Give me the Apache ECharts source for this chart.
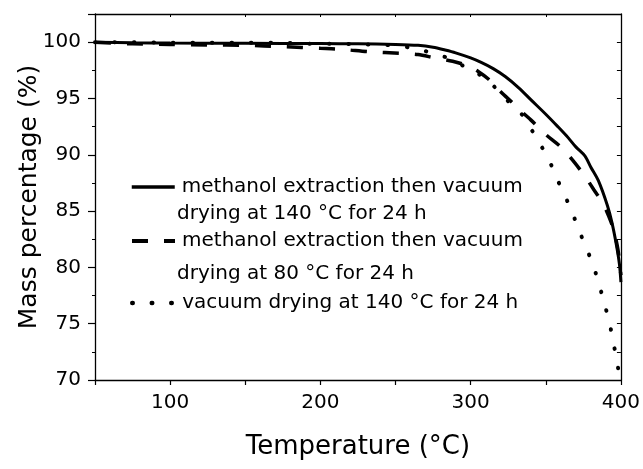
<!DOCTYPE html>
<html>
<head>
<meta charset="utf-8">
<script src="https://cdn.jsdelivr.net/npm/echarts@6/dist/echarts.min.js"></script>
<style>html,body{margin:0;padding:0;background:#fff;}#c{width:643px;height:469px;}</style>
</head>
<body>
<div id="c"></div>
<script>
// Temperature (°C) and mass percentage (%) for each sample
const solidX = [50, 75, 100, 150, 200, 225, 250, 265, 275, 283, 290, 300, 307, 315, 323, 332, 340, 350, 358, 365, 370, 376, 380, 385, 391, 394, 397, 399, 400];
const solidY = [100.0, 99.95, 99.92, 99.9, 99.87, 99.85, 99.8, 99.72, 99.55, 99.3, 99.05, 98.6, 98.2, 97.65, 96.95, 95.95, 94.9, 93.6, 92.5, 91.5, 90.7, 89.9, 88.9, 87.7, 85.5, 84.0, 82.0, 80.3, 78.7];

const dashX = [50, 75, 100, 125, 150, 175, 200, 215, 232, 254, 265, 276, 288, 298, 305, 312, 320, 328, 335, 340, 350, 360, 368, 376, 382, 388, 392, 395, 398, 400];
const dashY = [100.0, 99.85, 99.8, 99.75, 99.72, 99.6, 99.45, 99.35, 99.15, 99.0, 98.9, 98.6, 98.3, 97.9, 97.4, 96.7, 95.6, 94.6, 93.7, 93.1, 91.8, 90.7, 89.5, 88.1, 86.9, 85.7, 84.5, 83.4, 81.6, 79.3];

const dotX = [50, 75, 100, 125, 150, 175, 190, 210, 230, 250, 260, 270, 280, 287, 295, 302, 311, 320, 327, 334, 342, 349, 355, 360, 366, 371, 376, 381, 385, 389, 392.5, 395, 397.5, 399.2];
const dotY = [100.0, 100.0, 99.95, 99.95, 99.95, 99.95, 99.85, 99.85, 99.8, 99.7, 99.5, 99.2, 98.8, 98.5, 97.9, 97.4, 96.7, 95.4, 94.5, 93.6, 91.9, 90.3, 88.7, 87.1, 85.4, 83.7, 82.0, 80.4, 78.7, 76.8, 75.0, 73.3, 71.6, 70.0];

const seriesNames = [
  'methanol extraction then vacuum\ndrying at 140 °C for 24 h',
  'methanol extraction then vacuum\ndrying at 80 °C for 24 h',
  'vacuum drying at 140 °C for 24 h'
];
const xTicks = [100, 200, 300, 400];
const yTicks = [70, 75, 80, 85, 90, 95, 100];

const FONT = 'DejaVu Sans';
const pairs = (xs, ys) => xs.map((x, i) => [x, ys[i]]);
const chart = echarts.init(document.getElementById('c'), null, {renderer: 'canvas'});

const firstLine = n => n.split('\n')[0];
function legendAt(name, top, width) {
  return {
    data: [name], left: 130, top: top, padding: 0, itemWidth: 43, itemHeight: 14, itemGap: 0,
    formatter: firstLine,
    itemStyle: {opacity: 0},
    lineStyle: {width: width},
    textStyle: {fontFamily: FONT, fontSize: 20, color: '#000', padding: [0, 0, 0, 2]}
  };
}

chart.setOption({
  animation: false,
  backgroundColor: '#fff',
  grid: {left: 95, right: 20, top: 14, bottom: 89, containLabel: false},
  legend: [legendAt(seriesNames[0], 177, 3.5), legendAt(seriesNames[1], 231, 4), legendAt(seriesNames[2], 293, 4.5)],
  graphic: [
    {type: 'text', left: 177, top: 204, style: {text: seriesNames[0].split('\n')[1], font: '20px "' + FONT + '"', fill: '#000'}},
    {type: 'text', left: 177, top: 264, style: {text: seriesNames[1].split('\n')[1], font: '20px "' + FONT + '"', fill: '#000'}}
  ],
  xAxis: [{
    type: 'value', min: 50, max: 400, interval: 50, position: 'bottom',
    name: 'Temperature (°C)', nameLocation: 'middle', nameGap: 54, nameMoveOverlap: false,
    nameTextStyle: {fontFamily: FONT, fontSize: 26, color: '#000'},
    axisLine: {show: true, onZero: false, lineStyle: {color: '#000', width: 1.3}},
    axisTick: {show: true, inside: false, length: 5, lineStyle: {color: '#000', width: 1.2}},
    axisLabel: {margin: 13, fontFamily: FONT, fontSize: 20, color: '#000',
      formatter: v => xTicks.includes(v) ? String(v) : ''},
    splitLine: {show: false}
  }, {
    type: 'value', min: 50, max: 400, interval: 50, position: 'top',
    axisLine: {show: true, onZero: false, lineStyle: {color: '#000', width: 1.3}},
    axisTick: {show: true, inside: true, length: 3, lineStyle: {color: '#000', width: 1}},
    axisLabel: {show: false}, splitLine: {show: false}
  }],
  yAxis: [{
    type: 'value', min: 70, max: 102.5, interval: 5, position: 'left',
    name: 'Mass percentage (%)', nameLocation: 'middle', nameGap: 53, nameMoveOverlap: false,
    nameTextStyle: {fontFamily: FONT, fontSize: 25, color: '#000'},
    axisLine: {show: true, onZero: false, lineStyle: {color: '#000', width: 1.3}},
    axisTick: {show: true, inside: false, length: 7, lineStyle: {color: '#000', width: 1.2}},
    minorTick: {show: true, splitNumber: 2, length: 3, lineStyle: {color: '#000', width: 1}},
    axisLabel: {margin: 14, fontFamily: FONT, fontSize: 20, color: '#000',
      formatter: v => yTicks.includes(v) ? String(v) : ''},
    splitLine: {show: false}, minorSplitLine: {show: false}
  }, {
    type: 'value', min: 70, max: 102.5, interval: 2.5, position: 'right',
    axisLine: {show: true, onZero: false, lineStyle: {color: '#000', width: 1.3}},
    axisTick: {show: true, inside: true, length: 4, lineStyle: {color: '#000', width: 1}},
    axisLabel: {show: false}, splitLine: {show: false}
  }],
  series: [{
    name: seriesNames[0], type: 'line', xAxisIndex: 0, yAxisIndex: 0,
    data: pairs(solidX, solidY), showSymbol: false, symbol: 'none', smooth: 0.3,
    lineStyle: {color: '#000', width: 3, type: 'solid'}, itemStyle: {color: '#000'}
  }, {
    name: seriesNames[1], type: 'line', xAxisIndex: 0, yAxisIndex: 0,
    data: pairs(dashX, dashY), showSymbol: false, symbol: 'none', smooth: 0.3,
    lineStyle: {color: '#000', width: 3.5, type: [16, 16]}, itemStyle: {color: '#000'}
  }, {
    name: seriesNames[2], type: 'line', xAxisIndex: 0, yAxisIndex: 0,
    data: pairs(dotX, dotY), showSymbol: false, symbol: 'none', smooth: 0.3,
    lineStyle: {color: '#000', width: 4, type: [0.5, 19], cap: 'round'}, itemStyle: {color: '#000'}
  }]
});
</script>
</body>
</html>
